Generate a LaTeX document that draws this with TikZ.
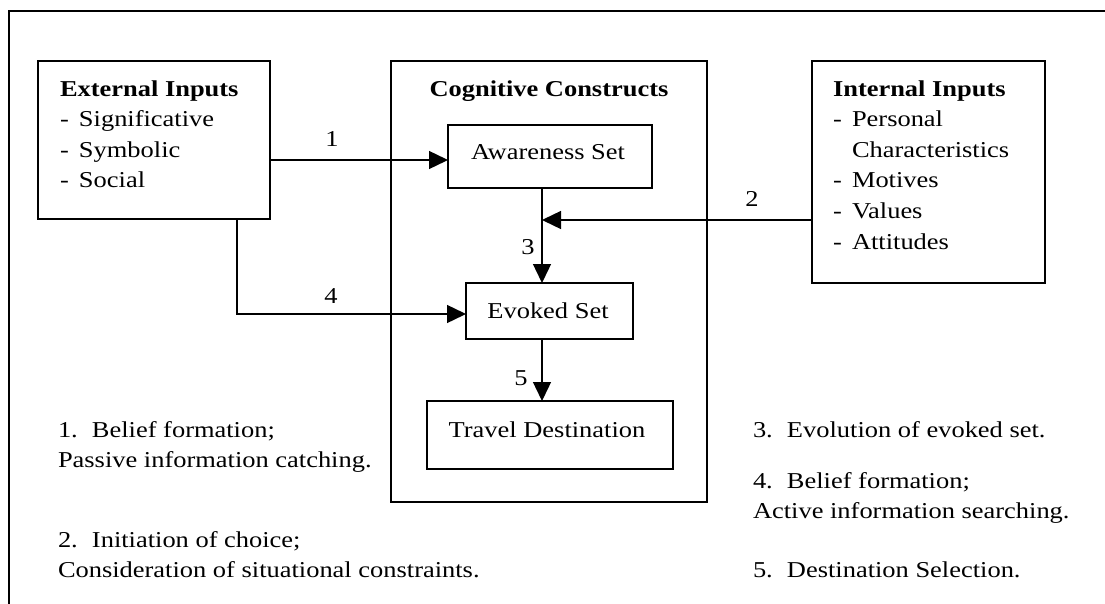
\documentclass[tikz,border=0pt]{standalone}
\usepackage{fontspec}
\setmainfont{Liberation Serif}[FakeStretch=1.165]
\usetikzlibrary{arrows.meta}
\begin{document}
\begin{tikzpicture}[x=1pt,y=-1pt,
  every node/.style={font=\fontsize{22.7pt}{30.6pt}\selectfont, inner sep=0pt, outer sep=0pt},
  box/.style={draw, line width=1.5pt, rectangle},
  txt/.style={align=left, anchor=north west},
  flow/.style={line width=1.4pt, -{Triangle[length=19pt,width=18pt]}},
  num/.style={anchor=base}]
\useasboundingbox (0,0) rectangle (1105,604);

% frame
\draw[line width=1.6pt] (9,604) -- (9,11) -- (1105,11);

% boxes
\node[box, minimum width=232pt, minimum height=158pt] (ext) at (154,140) {};
\node[box, minimum width=316pt, minimum height=441pt] (cog) at (549,281.5) {};
\node[box, minimum width=233pt, minimum height=222pt] (int) at (928.5,172) {};
\node[box, minimum width=204pt, minimum height=63pt] (aw) at (550,156.5) {};
\node[box, minimum width=167pt, minimum height=56pt] (ev) at (549.5,311) {};
\node[box, minimum width=246pt, minimum height=68pt] (td) at (550,435) {};

% box texts
\node[txt] (exttext) at (60,74.6) {\strut\textbf{External Inputs}\\
  \strut\makebox[19pt][l]{-}Significative\\
  \strut\makebox[19pt][l]{-}Symbolic\\
  \strut\makebox[19pt][l]{-}Social};
\node[txt] (inttext) at (833,74.6) {\strut\textbf{Internal Inputs}\\
  \strut\makebox[19pt][l]{-}Personal\\
  \strut\hspace*{19pt}Characteristics\\
  \strut\makebox[19pt][l]{-}Motives\\
  \strut\makebox[19pt][l]{-}Values\\
  \strut\makebox[19pt][l]{-}Attitudes};
\node[anchor=base] (cogtext) at (549,97) {\textbf{Cognitive Constructs}};
\node[anchor=base] (awtext) at (548,160) {Awareness Set};
\node[anchor=base] (evtext) at (548,318) {Evoked Set};
\node[anchor=base] (tdtext) at (547,437) {Travel Destination};

% connectors
\coordinate (j) at (542,220);
\coordinate (r1) at (0,160);
\coordinate (r4) at (237,314);
\draw[flow] (ext.east |- r1) -- (aw.west |- r1);
\draw[flow] (int.west |- j) -- (j);
\draw[flow] (aw.south -| j) -- (ev.north -| j);
\draw[flow] (ext.south -| r4) -- (r4) -- (ev.west |- r4);
\draw[flow] (ev.south -| j) -- (td.north -| j);

% connector numbers
\node[num] (n1) at (332,147) {1};
\node[num] (n2) at (752,207) {2};
\node[num] (n3) at (528,254) {3};
\node[num] (n4) at (331,303) {4};
\node[num] (n5) at (521,385) {5};

% legend
\node[txt] (cap1) at (58,415.6) {\strut\makebox[34pt][l]{1.}Belief formation;\\
  \strut Passive information catching.};
\node[txt] (cap2) at (58,525.6) {\strut\makebox[34pt][l]{2.}Initiation of choice;\\
  \strut Consideration of situational constraints.};
\node[anchor=base west] (cap3) at (753,437) {\makebox[34pt][l]{3.}Evolution of evoked set.};
\node[txt] (cap4) at (753,466.6) {\strut\makebox[34pt][l]{4.}Belief formation;\\
  \strut Active information searching.};
\node[anchor=base west] (cap5) at (753,577) {\makebox[34pt][l]{5.}Destination Selection.};
\end{tikzpicture}
\end{document}
